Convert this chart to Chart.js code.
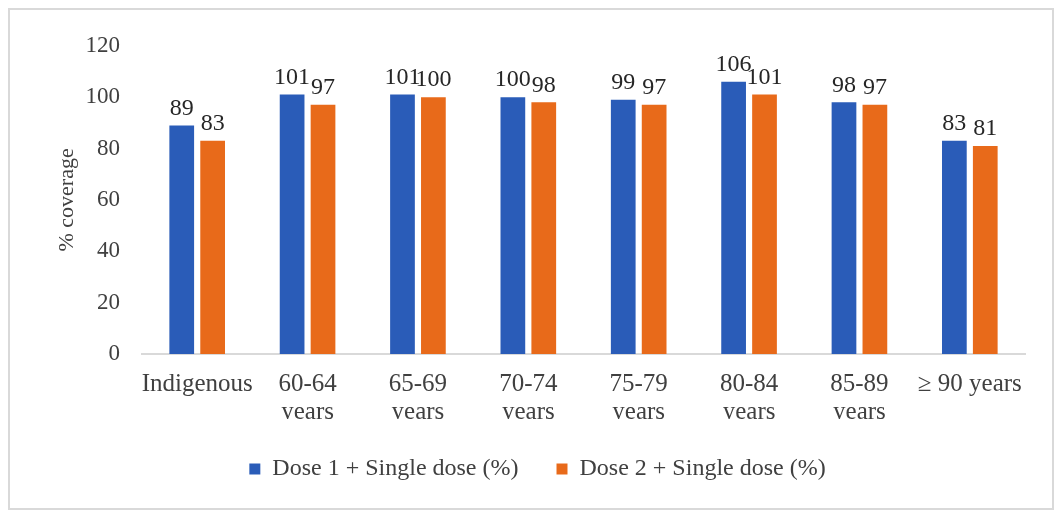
<!DOCTYPE html>
<html>
<head>
<meta charset="utf-8">
<script src="https://cdn.jsdelivr.net/npm/chart.js@4/dist/chart.umd.min.js"></script>
<style>
  body { margin: 0; background: #fff; }
  #box {
    position: absolute; left: 8px; top: 8px;
    width: 1042px; height: 498px;
    border: 2px solid #d9d9d9; background: #fff;
  }
</style>
</head>
<body>
<div id="box"><canvas id="chart" width="1042" height="498"></canvas></div>
<script>
const categories = [
    'Indigenous',
    ['60-64', 'years'],
    ['65-69', 'years'],
    ['70-74', 'years'],
    ['75-79', 'years'],
    ['80-84', 'years'],
    ['85-89', 'years'],
    '\u2265 90 years'
];
const dose1 = [89, 101, 101, 100, 99, 106, 98, 83];
const dose2 = [83, 97, 100, 98, 97, 101, 97, 81];
const yTicks = [0, 20, 40, 60, 80, 100, 120];

const serif = '"Liberation Serif", "Times New Roman", serif';

// draws the value above each bar
const valueLabels = {
    id: 'valueLabels',
    afterDatasetsDraw(chart) {
        const ctx = chart.ctx;
        ctx.save();
        ctx.font = '24px ' + serif;
        ctx.fillStyle = '#262626';
        ctx.textAlign = 'center';
        ctx.textBaseline = 'bottom';
        chart.data.datasets.forEach((ds, i) => {
            chart.getDatasetMeta(i).data.forEach((bar, j) => {
                ctx.fillText(ds.data[j], bar.x, bar.y - 5);
            });
        });
        ctx.restore();
    }
};

new Chart(document.getElementById('chart'), {
    type: 'bar',
    data: {
        labels: categories,
        datasets: [{
            label: 'Dose 1 + Single dose (%)',
            data: dose1,
            backgroundColor: '#2a5cb8',
            categoryPercentage: 0.56,
            barPercentage: 0.8
        }, {
            label: 'Dose 2 + Single dose (%)',
            data: dose2,
            backgroundColor: '#e86a1a',
            categoryPercentage: 0.56,
            barPercentage: 0.8
        }]
    },
    options: {
        responsive: false,
        animation: false,
        layout: { padding: { left: 40, right: 27, top: 28, bottom: 17 } },
        scales: {
            x: {
                afterFit: axis => { axis.height -= 23; },
                grid: { display: false, drawTicks: false },
                border: { color: '#d9d9d9', width: 2 },
                ticks: {
                    color: '#404040',
                    font: { family: serif, size: 25, lineHeight: 1.12 },
                    padding: 16,
                    maxRotation: 0,
                    autoSkip: false
                }
            },
            y: {
                min: 0,
                max: 120,
                afterBuildTicks: axis => { axis.ticks = yTicks.map(v => ({ value: v })); },
                afterFit: axis => { axis.width = 92; },
                grid: { display: false, drawTicks: false },
                border: { display: false },
                ticks: {
                    color: '#404040',
                    font: { family: serif, size: 23 },
                    padding: 22
                },
                title: {
                    display: true,
                    text: '% coverage',
                    color: '#404040',
                    font: { family: serif, size: 22 },
                    padding: { top: 4, bottom: 0 }
                }
            }
        },
        plugins: {
            legend: {
                position: 'bottom',
                labels: {
                    color: '#404040',
                    font: { family: serif, size: 24 },
                    boxWidth: 11,
                    boxHeight: 11,
                    padding: 38
                }
            },
            tooltip: { enabled: false }
        }
    },
    plugins: [valueLabels]
});
</script>
</body>
</html>
